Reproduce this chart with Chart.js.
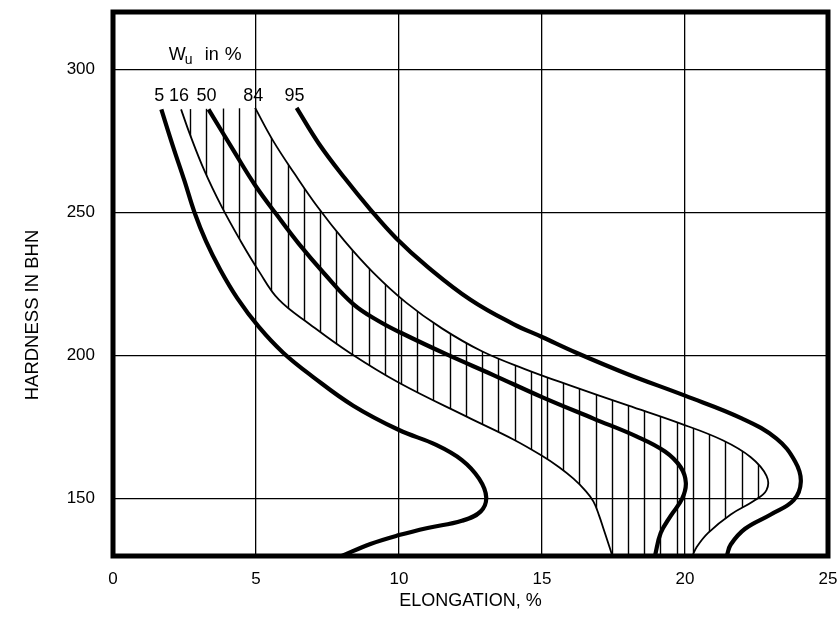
<!DOCTYPE html>
<html>
<head>
<meta charset="utf-8">
<script src="https://cdn.jsdelivr.net/npm/chart.js@4/dist/chart.umd.min.js"></script>
<style>
  html, body { margin: 0; padding: 0; background: #fff; }
  #wrap { width: 838px; height: 637px; }
</style>
</head>
<body>
<div id="wrap"><canvas id="chart" width="838" height="637"></canvas></div>
<script>
// Hardness (BHN) against elongation (%), percentile curves of W_u

const X_TICKS = [0, 5, 10, 15, 20, 25];
const Y_TICKS = [150, 200, 250, 300];
const PERCENTILES = ['5', '16', '50', '84', '95'];

// W_u = 5 %
const W05_ELONG = [1.69, 2.10, 2.50, 2.85, 3.25, 3.75, 4.35, 5.10, 5.95, 7.00, 8.40, 10.00, 11.30, 12.20, 12.80, 13.05, 12.85, 12.20, 11.00, 10.00, 9.00, 8.00];
const W05_HARD  = [286, 273, 261, 250, 240, 230, 220, 210, 201, 192.5, 182.5, 174, 168.8, 163.5, 157, 150.5, 145.5, 142.3, 139.8, 137.3, 134.2, 130];

// W_u = 16 %
const W16_ELONG = [2.38, 2.70, 3.20, 3.80, 4.44, 5.10, 5.80, 6.90, 8.30, 10.00, 12.40, 14.00, 15.00, 15.60, 16.10, 16.50, 16.80, 17.00, 17.15, 17.30, 17.46];
const W16_HARD  = [286, 277, 264.5, 252, 240.4, 229.5, 219.5, 210.8, 200.8, 190.5, 178.5, 170.7, 165, 161, 157, 153, 149, 144, 139.5, 135, 130];

// W_u = 50 %
const W50_ELONG = [3.34, 4.27, 4.97, 5.70, 6.50, 7.40, 8.40, 9.30, 10.10, 11.67, 13.30, 15.00, 16.80, 18.30, 19.30, 19.85, 20.03, 19.90, 19.50, 19.15, 18.95];
const W50_HARD  = [286, 270.7, 259.5, 249.5, 239, 228.5, 218, 212, 207.8, 200.4, 193.2, 185.5, 178, 171.8, 166.5, 161, 155.5, 150, 144, 138, 130];

// W_u = 84 %
const W84_ELONG = [4.97, 5.60, 6.35, 7.15, 8.10, 9.10, 10.24, 11.50, 12.90, 14.40, 16.00, 18.00, 19.80, 21.30, 22.30, 22.85, 22.85, 22.40, 21.60, 20.80, 20.40, 20.26];
const W84_HARD  = [286.5, 275, 263.5, 252, 240, 229, 218.6, 209.5, 201.5, 195.3, 189.5, 182.6, 176.4, 170.5, 164.5, 158, 153, 149.2, 144.5, 138, 133, 130];

// W_u = 95 %
const W95_ELONG = [6.42, 7.20, 8.10, 9.00, 9.90, 11.00, 12.50, 14.00, 15.00, 16.20, 18.00, 20.00, 22.00, 23.20, 23.85, 24.05, 23.80, 23.00, 22.10, 21.60, 21.46];
const W95_HARD  = [286.5, 274, 262, 251, 241, 231, 219.5, 211, 206.5, 201, 193.5, 186, 178, 171, 163, 156, 149.5, 144.5, 139.5, 134, 130];

const FONT = '"Liberation Sans", Arial, Helvetica, sans-serif';
const INK = '#000';

function pairs(xs, ys) {
  return xs.map((x, i) => ({ x: x, y: ys[i] }));
}

const curves = [
  { label: PERCENTILES[0], data: pairs(W05_ELONG, W05_HARD), borderWidth: 4.2 },
  { label: PERCENTILES[1], data: pairs(W16_ELONG, W16_HARD), borderWidth: 1.8 },
  { label: PERCENTILES[2], data: pairs(W50_ELONG, W50_HARD), borderWidth: 4.2 },
  { label: PERCENTILES[3], data: pairs(W84_ELONG, W84_HARD), borderWidth: 1.8 },
  { label: PERCENTILES[4], data: pairs(W95_ELONG, W95_HARD), borderWidth: 4.2 }
];

// Vertical hatching between the 16 % and 84 % curves
const HATCH_LOWER = 1;
const HATCH_UPPER = 3;
const HATCH_FROM = 2.70;
const HATCH_STEP = 0.567;

// Hardness level of the row of percentile labels
const LABEL_ROW = 290.5;

function traceCurve(ctx, pts, reverse) {
  const n = pts.length;
  if (!reverse) {
    ctx.lineTo(pts[0].x, pts[0].y);
    for (let i = 1; i < n; i++) {
      const a = pts[i - 1], b = pts[i];
      ctx.bezierCurveTo(a.cp2x, a.cp2y, b.cp1x, b.cp1y, b.x, b.y);
    }
  } else {
    ctx.lineTo(pts[n - 1].x, pts[n - 1].y);
    for (let i = n - 2; i >= 0; i--) {
      const a = pts[i + 1], b = pts[i];
      ctx.bezierCurveTo(a.cp1x, a.cp1y, b.cp2x, b.cp2y, b.x, b.y);
    }
  }
}

const hatchPlugin = {
  id: 'hatchBand',
  beforeDatasetsDraw(chart) {
    const { ctx, chartArea, scales } = chart;
    const lo = chart.getDatasetMeta(HATCH_LOWER);
    const hi = chart.getDatasetMeta(HATCH_UPPER);
    lo.dataset.updateControlPoints(chartArea, 'y');
    hi.dataset.updateControlPoints(chartArea, 'y');
    ctx.save();
    ctx.beginPath();
    ctx.rect(chartArea.left, chartArea.top, chartArea.right - chartArea.left, chartArea.bottom - chartArea.top);
    ctx.clip();
    ctx.beginPath();
    ctx.moveTo(lo.data[0].x, lo.data[0].y);
    traceCurve(ctx, lo.data, false);
    traceCurve(ctx, hi.data, true);
    ctx.closePath();
    ctx.clip();
    ctx.strokeStyle = INK;
    ctx.lineWidth = 1.4;
    ctx.beginPath();
    for (let v = HATCH_FROM; v <= scales.x.max; v += HATCH_STEP) {
      const px = Math.round(scales.x.getPixelForValue(v)) + 0.5;
      ctx.moveTo(px, chartArea.top);
      ctx.lineTo(px, chartArea.bottom);
    }
    ctx.stroke();
    ctx.restore();
  }
};

function zeroPadding(s) {
  s.paddingTop = 0;
  s.paddingBottom = 0;
  s.paddingLeft = 0;
  s.paddingRight = 0;
}

const notesPlugin = {
  id: 'notes',
  afterDatasetsDraw(chart) {
    const { ctx, scales } = chart;
    ctx.save();
    ctx.fillStyle = INK;
    ctx.font = '18px ' + FONT;
    ctx.textAlign = 'center';
    ctx.textBaseline = 'middle';
    // percentile label above the start of each curve
    const rowY = scales.y.getPixelForValue(LABEL_ROW);
    chart.data.datasets.forEach((ds, i) => {
      const first = chart.getDatasetMeta(i).data[0];
      ctx.fillText(ds.label, first.x - 2, rowY);
    });
    // heading of the percentile labels: W_u in %
    const hx = scales.x.getPixelForValue(1.95);
    const hy = scales.y.getPixelForValue(305);
    ctx.textAlign = 'left';
    ctx.font = '18px ' + FONT;
    ctx.fillText('W', hx, hy);
    const w = ctx.measureText('W').width;
    ctx.font = '14px ' + FONT;
    ctx.fillText('u', hx + w - 1, hy + 5);
    ctx.font = '18px ' + FONT;
    ctx.fillText('in', hx + 36, hy);
    ctx.font = '19px ' + FONT;
    ctx.fillText('%', hx + 56, hy);
    ctx.restore();
  },
  afterDraw(chart) {
    const { ctx, chartArea } = chart;
    ctx.save();
    // heavy frame round the plot
    ctx.strokeStyle = INK;
    ctx.lineWidth = 5;
    ctx.strokeRect(chartArea.left, chartArea.top, chartArea.right - chartArea.left, chartArea.bottom - chartArea.top);
    // vertical axis title
    ctx.fillStyle = INK;
    ctx.font = '18.5px ' + FONT;
    ctx.textAlign = 'center';
    ctx.textBaseline = 'middle';
    ctx.translate(32.5, 315);
    ctx.rotate(-Math.PI / 2);
    ctx.fillText('HARDNESS IN BHN', 0, 0);
    ctx.restore();
  }
};

Chart.defaults.color = INK;
Chart.defaults.font.family = FONT;

new Chart(document.getElementById('chart'), {
  type: 'line',
  data: {
    datasets: curves.map(c => ({
      label: c.label,
      data: c.data,
      borderColor: INK,
      borderWidth: c.borderWidth,
      pointRadius: 0,
      fill: false,
      tension: 0.4,
      borderCapStyle: 'butt'
    }))
  },
  options: {
    indexAxis: 'y',
    responsive: false,
    animation: false,
    devicePixelRatio: 1,
    layout: { padding: { left: 0, right: 10, top: 12, bottom: 0 } },
    plugins: {
      legend: { display: false },
      tooltip: { enabled: false }
    },
    scales: {
      x: {
        type: 'linear',
        min: 0,
        max: 25,
        afterBuildTicks: s => { s.ticks = X_TICKS.map(v => ({ value: v })); },
        afterFit: s => { s.height = 81; zeroPadding(s); },
        grid: { color: INK, lineWidth: 1.3, drawTicks: false },
        border: { display: false },
        ticks: { padding: 13, font: { size: 17 }, color: INK, maxRotation: 0 },
        title: {
          display: true,
          text: 'ELONGATION, %',
          font: { size: 18 },
          color: INK,
          padding: { top: 0, bottom: 25 }
        }
      },
      y: {
        type: 'linear',
        min: 130,
        max: 320,
        afterBuildTicks: s => { s.ticks = Y_TICKS.map(v => ({ value: v })); },
        afterFit: s => { s.width = 113; zeroPadding(s); },
        grid: { color: INK, lineWidth: 1.3, drawTicks: false },
        border: { display: false },
        ticks: { padding: 18, font: { size: 17 }, color: INK }
      }
    }
  },
  plugins: [hatchPlugin, notesPlugin]
});
</script>
</body>
</html>
